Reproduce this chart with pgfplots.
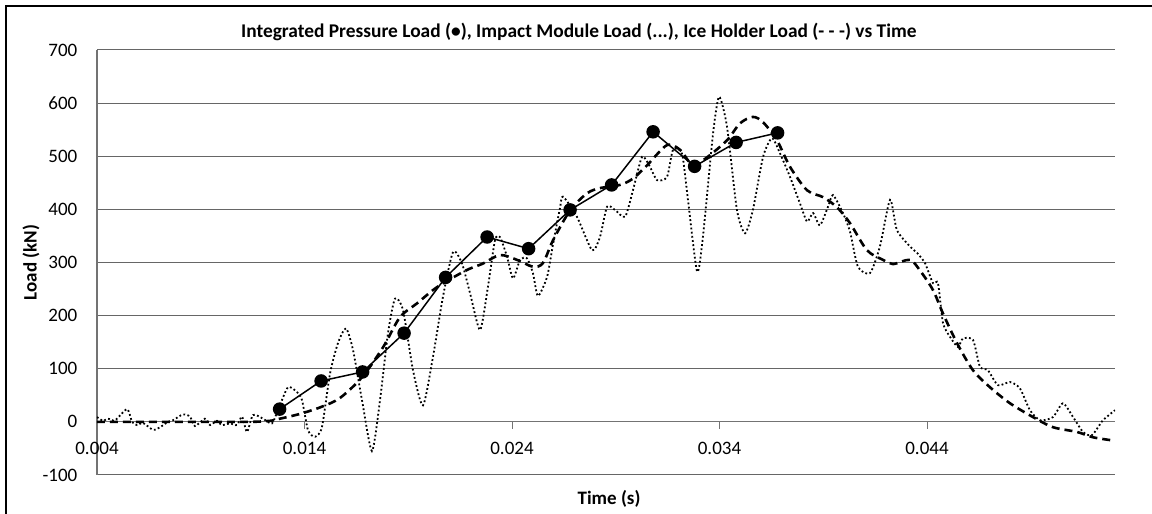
\documentclass[border=0pt]{standalone}
\usepackage{fontspec}
\setmainfont{Carlito}
\usepackage{pgfplots}
\pgfplotsset{compat=1.18}
\begin{document}
\fontsize{9.5pt}{11pt}\selectfont
\begin{tikzpicture}
\begin{axis}[
 scale only axis, width=509pt, height=212.5pt,
 xmin=0.004, xmax=0.05306, ymin=-100, ymax=700,
 axis x line=middle, axis y line=left,
 hide obscured x ticks=false, hide obscured y ticks=false,
 axis line style={-, draw=black!55, line width=0.6pt},
 scaled x ticks=false, scaled y ticks=false,
 xtick={0.004,0.014,0.024,0.034,0.044},
 xticklabels={0.004,0.014,0.024,0.034,0.044},
 ytick={-100,0,100,200,300,400,500,600,700},
 yticklabels={-100,0,100,200,300,400,500,600,700},
 ymajorgrids, grid style={draw=black!60, line width=0.5pt},
 major tick length=3.5pt, tick align=outside,
 ytick style={draw=none},
 xtick style={draw=black!55, line width=0.5pt},
 tick label style={font=\fontsize{9.5pt}{11pt}\selectfont, text=black},
 xticklabel style={anchor=base, yshift=-13pt},
 yticklabel style={anchor=east, xshift=-3pt},
 title={Integrated Pressure Load (•), Impact Module Load (...), Ice Holder Load (- - -) vs Time},
 title style={at={(axis description cs:0,1)}, anchor=base west, xshift=71.85pt, inner sep=0pt, font=\bfseries\fontsize{9.7pt}{11pt}\selectfont},
 xlabel={Time (s)},
 xlabel style={at={(axis description cs:0.503,0)}, anchor=base, yshift=-15pt, inner sep=0pt, font=\bfseries\fontsize{9.5pt}{11pt}\selectfont},
 ylabel={Load (kN)},
 ylabel style={at={(axis description cs:-0.0648,0.5)}, anchor=center, font=\bfseries\fontsize{9.5pt}{11pt}\selectfont},
]
\addplot[black, line width=0.9pt, dash pattern=on 0.9pt off 1.2pt, smooth, tension=0.4] coordinates {
(0.00400,9) (0.00429,2) (0.00453,6) (0.00487,3) (0.00545,24) (0.00569,0) (0.00593,-6) (0.00622,-2) (0.00670,-15) (0.00704,-10) (0.00742,0) (0.00766,3) (0.00814,14) (0.00848,10) (0.00872,-8) (0.00920,6) (0.00945,-6) (0.00978,2) (0.01002,-6) (0.01041,-3) (0.01075,-6) (0.01099,10) (0.01123,-19) (0.01152,13) (0.01200,6) (0.01243,-3) (0.01272,22) (0.01320,65) (0.01364,56) (0.01388,41) (0.01417,-16) (0.01451,-28) (0.01484,-10) (0.01523,91) (0.01561,148) (0.01600,176) (0.01634,135) (0.01677,41) (0.01725,-55) (0.01764,41) (0.01802,166) (0.01836,232) (0.01875,210) (0.01923,97) (0.01971,31) (0.02019,122) (0.02067,235) (0.02116,320) (0.02159,298) (0.02198,242) (0.02246,173) (0.02284,254) (0.02318,342) (0.02342,348) (0.02376,311) (0.02405,270) (0.02439,305) (0.02472,308) (0.02501,280) (0.02525,237) (0.02569,273) (0.02598,335) (0.02631,402) (0.02646,424) (0.02713,386) (0.02786,323) (0.02824,348) (0.02858,405) (0.02896,399) (0.02945,386) (0.02983,436) (0.03027,499) (0.03065,480) (0.03099,455) (0.03147,461) (0.03176,512) (0.03219,505) (0.03248,418) (0.03292,283) (0.03320,348) (0.03369,543) (0.03398,612) (0.03436,556) (0.03484,399) (0.03523,355) (0.03561,399) (0.03610,499) (0.03653,534) (0.03692,505) (0.03740,461) (0.03788,411) (0.03822,377) (0.03851,393) (0.03884,370) (0.03923,405) (0.03947,427) (0.03995,393) (0.04029,358) (0.04067,292) (0.04125,280) (0.04173,330) (0.04222,418) (0.04255,361) (0.04318,330) (0.04352,318) (0.04390,299) (0.04429,261) (0.04453,261) (0.04477,186) (0.04511,160) (0.04549,141) (0.04573,157) (0.04622,154) (0.04655,104) (0.04694,97) (0.04742,69) (0.04800,75) (0.04848,63) (0.04896,22) (0.04945,3) (0.05007,9) (0.05055,35) (0.05104,9) (0.05152,-19) (0.05195,-25) (0.05248,3) (0.05306,22)
};
\addplot[black, line width=1.3pt, dash pattern=on 4pt off 2.5pt, smooth] coordinates {
(0.00400,0) (0.00655,0) (0.00896,0) (0.01137,0) (0.01234,2) (0.01282,6) (0.01378,15) (0.01480,28) (0.01571,45) (0.01677,84) (0.01778,140) (0.01860,197) (0.01942,223) (0.02019,248) (0.02077,263) (0.02183,286) (0.02260,298) (0.02342,314) (0.02424,305) (0.02501,292) (0.02549,299) (0.02598,342) (0.02680,398) (0.02761,430) (0.02824,440) (0.02920,446) (0.02983,458) (0.03051,483) (0.03147,521) (0.03210,512) (0.03272,483) (0.03340,498) (0.03436,530) (0.03499,562) (0.03561,574) (0.03610,564) (0.03677,530) (0.03740,480) (0.03822,436) (0.03899,423) (0.03966,404) (0.04029,374) (0.04111,323) (0.04188,305) (0.04236,297) (0.04318,305) (0.04366,285) (0.04429,248) (0.04477,204) (0.04545,148) (0.04622,97) (0.04704,65) (0.04800,35) (0.04911,9) (0.05007,-10) (0.05123,-19) (0.05200,-29) (0.05296,-35)
};
\addplot[black, line width=0.75pt, mark=*, mark size=3pt, mark options={solid}] coordinates {
(0.0128,24) (0.0148,77) (0.0168,94) (0.0188,167) (0.0208,272) (0.0228,348) (0.0248,326) (0.0268,399) (0.0288,446) (0.0308,546) (0.0328,481) (0.0348,526) (0.0368,544)
};
\end{axis}
\draw[black, line width=1pt] (-45.5pt,-19.5pt) -- (-45.5pt,234.5pt) -- (527.5pt,234.5pt);
\pgfresetboundingbox
\path[use as bounding box] (-48.5pt,-19.5pt) rectangle (527.5pt,237.5pt);
\end{tikzpicture}
\end{document}
